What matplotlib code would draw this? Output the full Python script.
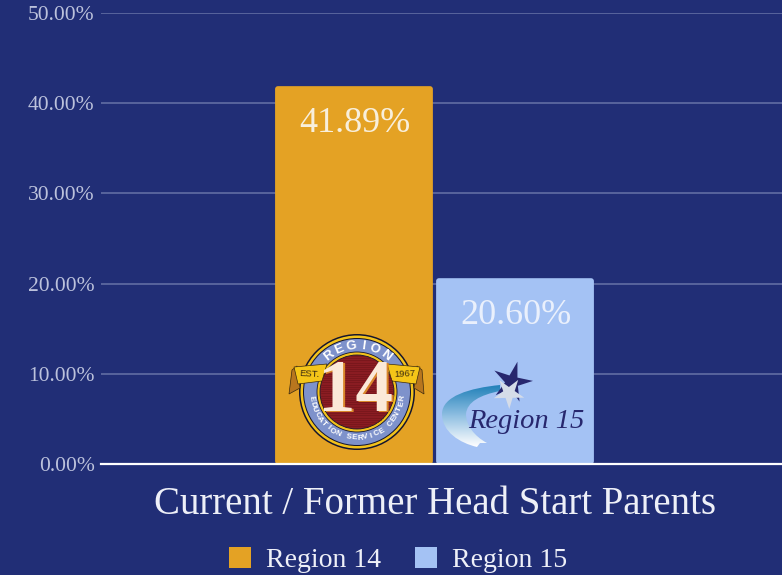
import numpy as np
import matplotlib
matplotlib.use('Agg')
import matplotlib.pyplot as plt
from matplotlib.patches import FancyBboxPatch, Circle, Polygon, PathPatch, Patch
from matplotlib.path import Path

# Data
regions = ["Region 14", "Region 15"]
values = [41.89, 20.60]
value_labels = ["41.89%", "20.60%"]
colors = ["#E4A224", "#A4C2F4"]
yticks = [0, 10, 20, 30, 40, 50]
ytick_labels = ["0.00%", "10.00%", "20.00%", "30.00%", "40.00%", "50.00%"]
category = "Current / Former Head Start Parents"

BG = "#212E76"
W, H = 782, 575
plt.rcParams['font.family'] = ['Liberation Serif', 'DejaVu Serif']

fig = plt.figure(figsize=(W / 100, H / 100), dpi=100, facecolor=BG)
ax = fig.add_axes([101 / W, 1 - 464 / H, (W - 101) / W, 451 / H], facecolor=BG)
ax.set_xlim(-1.571, 2.658)
ax.set_ylim(0, 50)

# Bars with slightly rounded corners
bar_w = 0.98
aspect = 161 / 9.02
for i, (v, c) in enumerate(zip(values, colors)):
    ax.add_patch(FancyBboxPatch((i - bar_w / 2, 0), bar_w, v,
                                boxstyle="round,pad=0,rounding_size=0.018",
                                mutation_aspect=aspect, fc=c, ec='none', zorder=3))

label_colors = ["#F8EFDC", "#EAF0FC"]
for i, (v, t) in enumerate(zip(values, value_labels)):
    ax.text(i + 0.005, v - 4.1, t, color=label_colors[i], fontsize=26,
            ha='center', va='center', zorder=6)

ax.set_yticks(yticks)
ax.set_yticklabels(ytick_labels, color="#BCC2DC", fontsize=15.5)
ax.set_xticks([])
ax.tick_params(axis='y', length=0, pad=4.5)
ax.grid(axis='y', color="#5C689F", lw=1.3, zorder=1)
ax.set_axisbelow(True)
for s in ['top', 'right', 'left']:
    ax.spines[s].set_visible(False)
ax.spines['bottom'].set_color('white')
ax.spines['bottom'].set_linewidth(1.6)
ax.spines['bottom'].set_zorder(5)

fig.text(435.5 / W, 1 - 505 / H, category, color="#EEF0F8", fontsize=28,
         ha='center', va='center')

handles = [Patch(fc=c, ec='none', label=r) for r, c in zip(regions, colors)]
fig.legend(handles=handles, loc='center', bbox_to_anchor=(398 / W, 1 - 560 / H), ncol=2,
           frameon=False, fontsize=20, labelcolor="#EEF0F8", handlelength=0.8,
           handleheight=0.8, handletextpad=0.55, columnspacing=1.2, borderpad=0)

# Overlay in pixel coordinates for the two logos
lg = fig.add_axes([0, 0, 1, 1], facecolor='none', zorder=10)
lg.set_xlim(0, W)
lg.set_ylim(H, 0)
lg.axis('off')


def ring_text(txt, cx, cy, r, a0, a1, size, color):
    # angles in degrees, measured clockwise from the top of the circle
    for ch, a in zip(txt, np.linspace(a0, a1, len(txt))):
        rad = np.radians(a)
        rot = -a if abs(a) < 90 else 180 - a
        lg.text(cx + r * np.sin(rad), cy - r * np.cos(rad), ch, color=color, fontsize=size,
                family='Liberation Sans', weight='bold', rotation=rot,
                rotation_mode='anchor', ha='center', va='center')


# Region 14 emblem
cx, cy = 357, 392
lg.add_patch(Circle((cx, cy), 58, fc="#14142E"))
lg.add_patch(Circle((cx, cy), 56.5, fc="#F2C21B"))
lg.add_patch(Circle((cx, cy), 54, fc="#14142E"))
lg.add_patch(Circle((cx, cy), 53, fc="#7E92CB"))
lg.add_patch(Circle((cx, cy), 40, fc="#F2C21B", ec="#14142E", lw=0.6))
lg.add_patch(Circle((cx, cy), 37, fc="#8A1C22", ec="#14142E", lw=0.6))
for yy in np.arange(cy - 36, cy + 37, 2.2):
    half = np.sqrt(max(36.5 ** 2 - (yy - cy) ** 2, 0))
    lg.plot([cx - half, cx + half], [yy, yy], color="#6E1419", lw=0.4)
ribbon = "#F5C518"
tail = "#B8761E"
lg.add_patch(Polygon([(292, 370), (297, 366), (300, 388), (289, 394)], fc=tail, ec="#3A2A10", lw=0.5))
lg.add_patch(Polygon([(422, 370), (417, 366), (414, 388), (424, 394)], fc=tail, ec="#3A2A10", lw=0.5))
lg.add_patch(Polygon([(294, 367), (327, 364), (322, 381), (298, 384)], fc=ribbon, ec="#3A2A10", lw=0.5))
lg.add_patch(Polygon([(420, 367), (387, 364), (392, 381), (416, 384)], fc=ribbon, ec="#3A2A10", lw=0.5))
lg.text(309, 374, "EST.", fontsize=6.8, color="#3A2A10", family='Liberation Sans',
        rotation=-3, ha='center', va='center')
lg.text(405, 374, "1967", fontsize=6.8, color="#3A2A10", family='Liberation Sans',
        rotation=3, ha='center', va='center')
ring_text("REGION", cx, cy, 46, -38, 38, 9.5, "white")
ring_text("EDUCATION SERVICE CENTER"[::-1], cx, cy, 46, 98, 262, 5.8, "white")
for off, col in [(1.5, "#D9862A"), (0, "#FBE9D8")]:
    lg.text(cx + off - 1, cy + 1 + off * 0.6, "14", fontsize=54, color=col, weight='bold',
            ha='center', va='center', zorder=5)

# Region 15 logo: swoosh with a blue-to-white gradient, star, italic name
swoosh = Path([(500, 385), (470, 388), (442, 396), (442, 414), (442, 432), (460, 443), (477, 447),
               (480, 443), (487, 443), (474, 436), (466, 425), (466, 414), (467, 402), (480, 395), (500, 391)],
              [Path.MOVETO, Path.CURVE4, Path.CURVE4, Path.CURVE4, Path.CURVE4, Path.CURVE4, Path.CURVE4,
               Path.LINETO, Path.LINETO, Path.CURVE4, Path.CURVE4, Path.CURVE4, Path.CURVE4, Path.CURVE4, Path.CURVE4])
grad = np.linspace(0, 1, 64).reshape(-1, 1)
cmap = matplotlib.colors.LinearSegmentedColormap.from_list('sw', ["#1F7FB8", "#8FBFE2", "#FFFFFF"])
im = lg.imshow(grad, extent=(438, 510, 447, 384), cmap=cmap, aspect='auto', zorder=2)
im.set_clip_path(PathPatch(swoosh, transform=lg.transData))
lg.set_xlim(0, W)
lg.set_ylim(H, 0)


def star_points(x0, y0, r_out, r_in, tilt):
    ang = np.radians(tilt) + np.arange(10) * np.pi / 5
    rad = np.where(np.arange(10) % 2 == 0, r_out, r_in)
    return np.column_stack([x0 + rad * np.sin(ang), y0 - rad * np.cos(ang)])


lg.add_patch(Polygon(star_points(512, 382, 21, 7, 15), fc="#27276E", zorder=3))
lg.add_patch(Polygon(star_points(509, 393, 16, 6, 35), fc="#D5DCE8", zorder=4))
lg.text(526, 422, "Region 15", fontsize=20.5, style='italic', color="#27276E",
        ha='center', va='center', zorder=5)

fig.savefig("out.png", dpi=100, facecolor=BG)
